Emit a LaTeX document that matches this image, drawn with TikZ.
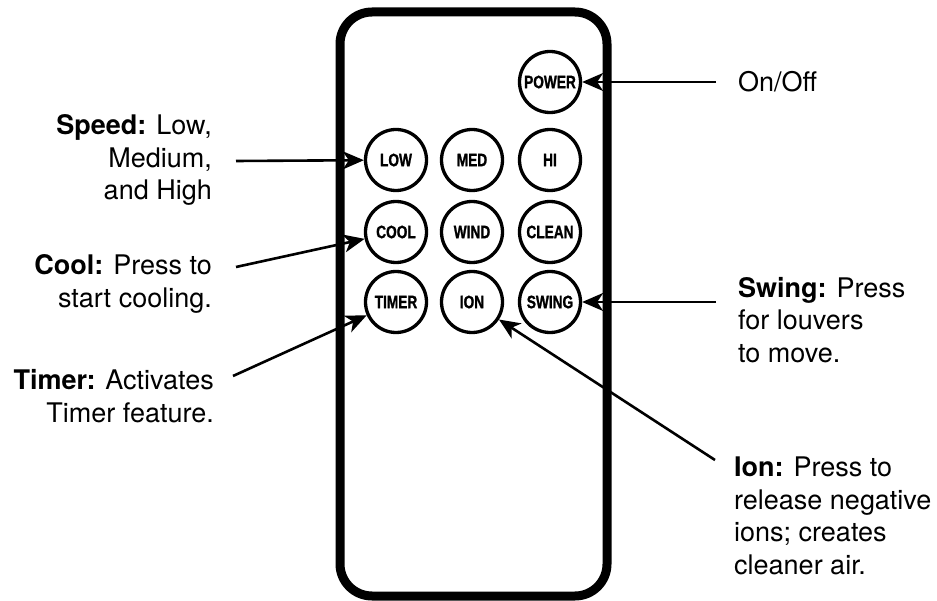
\documentclass[tikz,border=0pt]{standalone}
\usepackage{fontspec}
\setmainfont{TeX Gyre Heros}
\newfontfamily\btnfont[FakeStretch=0.76,FakeBold=1.2]{Liberation Sans Bold}
\usetikzlibrary{arrows.meta}
\begin{document}
\begin{tikzpicture}[x=1pt,y=-1pt,
  btn/.style={circle,draw,line width=3.3pt,minimum size=61pt,inner sep=0pt,
    font=\btnfont\fontsize{18}{18}\selectfont},
  lbl/.style={font=\fontsize{27}{32.5}\selectfont,inner sep=0pt},
  arr/.style={line width=2.6pt,-{Stealth[length=21pt,width=18pt,inset=6pt]}},
  remote/.style={line width=9pt,rounded corners=32pt}]
\useasboundingbox (0,0) rectangle (937,601);
% remote body
\draw[remote] (340,12) rectangle (607,596);
% buttons
\node[btn] (power) at (550,82) {POWER};
\node[btn] (low)   at (396,160) {LOW};
\node[btn] (med)   at (472,160) {MED};
\node[btn] (hi)    at (550,160) {HI};
\node[btn] (cool)  at (396,232) {COOL};
\node[btn] (wind)  at (472,232) {WIND};
\node[btn] (clean) at (550,232) {CLEAN};
\node[btn] (timer) at (396,302) {TIMER};
\node[btn] (ion)   at (472,302) {ION};
\node[btn] (swing) at (550,302) {SWING};
% labels
\node[lbl,anchor=east,align=right] (tspeed) at (212,160)
  {\textbf{Speed:} Low,\\Medium,\\and High};
\node[lbl,anchor=east,align=right] (tcool) at (212,284)
  {\textbf{Cool:} Press to\\start cooling.};
\node[lbl,anchor=east,align=right] (ttimer) at (214,396)
  {\textbf{Timer:} Activates\\Timer feature.};
\node[lbl,anchor=west,align=left] (tonoff) at (738,82) {On/Off};
\node[lbl,anchor=west,align=left] (tswing) at (738,320)
  {\textbf{Swing:} Press\\for louvers\\to move.};
\node[lbl,anchor=west,align=left] (tion) at (734,516)
  {\textbf{Ion:} Press to\\release negative\\ions; creates\\cleaner air.};
% connector tails
\coordinate (cspeed) at (236,161);
\coordinate (ccool)  at (236,267);
\coordinate (ctimer) at (233,376);
\coordinate (conoff) at (716,82);
\coordinate (cswing) at (716,302);
\coordinate (cion)   at (715,460);
% connectors
\draw[arr] (cspeed) -- (low);
\draw[arr] (ccool) -- (cool);
\draw[arr] (ctimer) -- (timer);
\draw[arr] (conoff) -- (power);
\draw[arr] (cswing) -- (swing);
\draw[arr] (cion) -- (ion);
\end{tikzpicture}
\end{document}
